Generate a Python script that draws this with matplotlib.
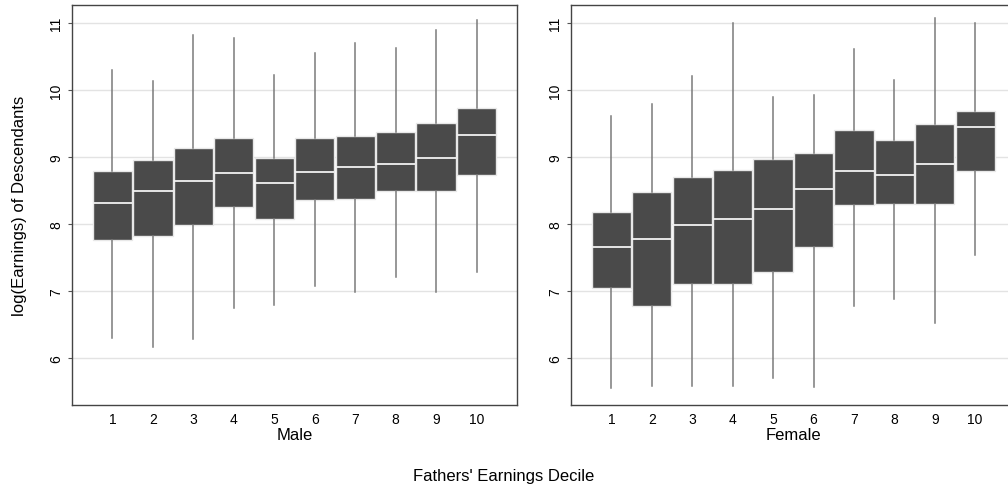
import matplotlib.pyplot as plt

plt.rcParams['font.family'] = ['Liberation Sans', 'DejaVu Sans']

deciles = [1, 2, 3, 4, 5, 6, 7, 8, 9, 10]

# log earnings of sons: whisker ends, quartiles and medians by father's decile
male_low = [6.30, 6.17, 6.29, 6.75, 6.79, 7.07, 6.98, 7.21, 6.99, 7.29]
male_q1 = [7.76, 7.83, 7.99, 8.26, 8.08, 8.36, 8.37, 8.50, 8.49, 8.73]
male_med = [8.32, 8.49, 8.64, 8.76, 8.62, 8.78, 8.85, 8.90, 8.98, 9.33]
male_q3 = [8.80, 8.96, 9.13, 9.28, 8.98, 9.29, 9.31, 9.38, 9.51, 9.73]
male_high = [10.30, 10.14, 10.82, 10.78, 10.22, 10.56, 10.70, 10.63, 10.89, 11.05]

# same for daughters
female_low = [5.55, 5.58, 5.58, 5.58, 5.70, 5.57, 6.78, 6.88, 6.53, 7.54]
female_q1 = [7.04, 6.78, 7.11, 7.10, 7.28, 7.66, 8.28, 8.30, 8.30, 8.80]
female_med = [7.66, 7.78, 7.99, 8.08, 8.22, 8.52, 8.79, 8.73, 8.89, 9.45]
female_q3 = [8.18, 8.48, 8.71, 8.81, 8.97, 9.06, 9.41, 9.26, 9.50, 9.69]
female_high = [9.62, 9.79, 10.21, 11.00, 9.90, 9.92, 10.61, 10.15, 11.08, 11.00]


def make_stats(low, q1, med, q3, high):
    return [dict(whislo=a, q1=b, med=c, q3=d, whishi=e, fliers=[])
            for a, b, c, d, e in zip(low, q1, med, q3, high)]


def draw_panel(ax, stats, xlabel):
    ax.bxp(stats, positions=deciles, widths=0.97, showcaps=False,
           showfliers=False, patch_artist=True,
           boxprops=dict(facecolor='#4a4a4a', edgecolor='#e8e8e8', linewidth=1.0),
           medianprops=dict(color='#f2f2f2', linewidth=1.3),
           whiskerprops=dict(color='#7a7a7a', linewidth=1.1))
    ax.set_xlim(0, 11)
    ax.set_ylim(5.3, 11.27)
    ax.set_yticks([6, 7, 8, 9, 10, 11])
    ax.set_xticks(deciles)
    ax.set_xticklabels([str(d) for d in deciles])
    ax.yaxis.grid(True, color='#e3e3e3', linewidth=1.0)
    ax.set_axisbelow(True)
    ax.tick_params(axis='x', length=0, labelsize=10, pad=5)
    ax.tick_params(axis='y', length=3, labelsize=10, color='#555555')
    for t in ax.get_yticklabels():
        t.set_rotation(90)
        t.set_va('center')
    for s in ax.spines.values():
        s.set_color('#444444')
        s.set_linewidth(1.0)
    ax.set_xlabel(xlabel, fontsize=12, labelpad=1)


fig = plt.figure(figsize=(10.08, 4.89), dpi=100)
ax1 = fig.add_axes([0.0714, 0.1697, 0.4415, 0.818])
ax2 = fig.add_axes([0.5665, 0.1697, 0.441, 0.818])

draw_panel(ax1, make_stats(male_low, male_q1, male_med, male_q3, male_high), 'Male')
draw_panel(ax2, make_stats(female_low, female_q1, female_med, female_q3, female_high), 'Female')

ax1.set_ylabel('log(Earnings) of Descendants', fontsize=12, labelpad=16)
fig.text(0.5, 0.025, "Fathers' Earnings Decile", ha='center', va='center', fontsize=12)

fig.savefig('out.png', dpi=100)
